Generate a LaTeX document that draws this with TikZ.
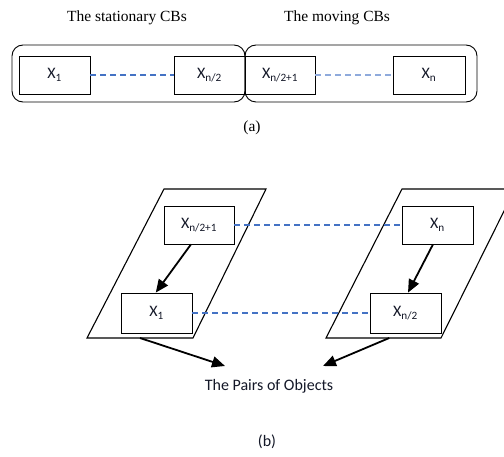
\documentclass[tikz,border=0pt]{standalone}
\usepackage{fontspec}
\setmainfont{Liberation Serif}
\newfontfamily\calibrifont{Carlito}
\usetikzlibrary{arrows.meta,calc}
\definecolor{dashdark}{RGB}{68,114,196}
\definecolor{dashlight}{RGB}{143,170,220}
\definecolor{labelink}{RGB}{20,24,40}
\tikzset{
  objbox/.style={draw=black, line width=0.8pt, minimum width=71pt, minimum height=38pt,
    inner sep=0pt, font=\calibrifont\fontsize{16}{16}\selectfont, text=labelink},
  groupbox/.style={draw=black, line width=0.9pt, rounded corners=11pt},
  plane/.style={draw=black, line width=1.1pt, line join=miter},
  link/.style={dashed, dash pattern=on 6pt off 4pt, line width=1.2pt},
  flow/.style={line width=1.8pt, -{Triangle[length=13pt,width=11pt]}},
  caption/.style={font=\fontsize{15.5}{16}\selectfont},
  heading/.style={font=\fontsize{15.5}{16}\selectfont}
}
\begin{document}
\begin{tikzpicture}[x=1pt, y=-1pt]
  \useasboundingbox (0,0) rectangle (504,457);
  \clip (0,0) rectangle (504,457);
  \fill[white] (0,0) rectangle (504,457);

  % ---- (a): the two groups of CBs ----
  \node[heading] (tstat) at (127,18) {The stationary CBs};
  \node[heading] (tmove) at (337,18) {The moving CBs};

  \draw[groupbox] (12,45) rectangle (245,102);
  \draw[groupbox] (245,45) rectangle (477,102);

  \node[objbox] (a1)  at (54.5,75)  {X\textsubscript{1}};
  \node[objbox] (a2)  at (209.5,75) {X\textsubscript{n/2}};
  \node[objbox, minimum width=70pt] (a3) at (280,75) {X\textsubscript{n/2+1}};
  \node[objbox, minimum width=72pt] (a4) at (429,75) {X\textsubscript{n}};

  \draw[link, dashdark]  (a1.east) -- (a2.west);
  \draw[link, dashlight] (a3.east) -- (a4.west);

  \node[caption] (capa) at (252,128) {(a)};

  % ---- (b): the two planes of objects ----
  \coordinate (pl1) at (164,189);
  \coordinate (pl2) at (266,189);
  \coordinate (pl3) at (193,338);
  \coordinate (pl4) at (87,338);
  \draw[plane] (pl1) -- (pl2) -- (pl3) -- (pl4) -- cycle;

  \coordinate (pr1) at (402,189);
  \coordinate (pr2) at (515,189);
  \coordinate (pr3) at (441,338);
  \coordinate (pr4) at (326,338);
  \draw[plane] (pr1) -- (pr2) -- (pr3) -- (pr4) -- cycle;

  \node[objbox, minimum width=70pt] (b1) at (199,225)   {X\textsubscript{n/2+1}};
  \node[objbox, minimum height=40pt] (b2) at (156.5,313) {X\textsubscript{1}};
  \node[objbox] (b3) at (437.5,225) {X\textsubscript{n}};
  \node[objbox, minimum height=40pt] (b4) at (405.5,313) {X\textsubscript{n/2}};

  \draw[link, dashdark] (b1.east) -- (b3.west);
  \draw[link, dashdark] (b2.east) -- (b4.west);

  \coordinate (s1) at ($(b1.south west)!0.386!(b1.south east)$);
  \coordinate (s3) at ($(b3.south west)!0.437!(b3.south east)$);
  \draw[flow] (s1) -- ($(b2.north west)!0.49!(b2.north east)$);
  \draw[flow] (s3) -- ($(b4.north west)!0.535!(b4.north east)$);

  \node[font=\calibrifont\fontsize{16}{16}\selectfont, text=labelink] (pairs) at (269,386) {The Pairs of Objects};
  \coordinate (pl5) at ($(pl4)!0.5!(pl3)$);
  \coordinate (pr5) at ($(pr4)!0.55!(pr3)$);
  \coordinate (tipl) at (225,366);
  \coordinate (tipr) at (323,366);
  \draw[flow] (pl5) -- (tipl);
  \draw[flow] (pr5) -- (tipr);

  \node[font=\calibrifont\fontsize{16}{16}\selectfont, text=labelink] (capb) at (267,442) {(b)};
\end{tikzpicture}
\end{document}
